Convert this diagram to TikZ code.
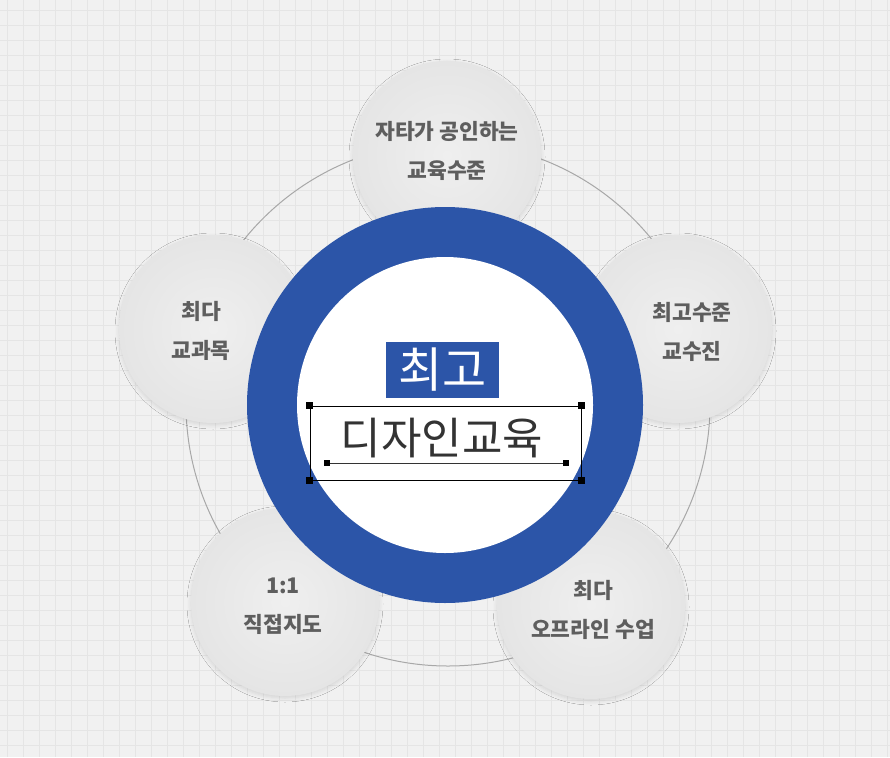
\documentclass[tikz,border=0pt]{standalone}
\usepackage{fontspec}
\setmainfont{Noto Sans CJK KR}
\usetikzlibrary{shadows.blur}
\definecolor{bgc}{HTML}{F1F1F1}
\definecolor{gridc}{HTML}{E5E5E5}
\definecolor{ringblue}{HTML}{2C55A8}
\definecolor{bubblein}{HTML}{EFEFEF}
\definecolor{bubbleout}{HTML}{E5E5E5}
\definecolor{labelgrey}{HTML}{5E5E5E}
\definecolor{maintext}{HTML}{333333}
\definecolor{orbitc}{HTML}{A8A8A8}
\tikzset{
  gridline/.style={gridc, line width=0.7pt},
  bubble/.style={circle, inner sep=0pt, minimum size=188pt, inner color=bubblein, outer color=bubbleout,
    blur shadow={shadow xshift=0pt, shadow yshift=-2pt, shadow blur radius=4pt, shadow opacity=12}},
  bubbletext/.style={align=center, text=labelgrey, font=\fontsize{21.5}{38.5}\selectfont\bfseries},
  handle/.style={fill=black, inner sep=0pt, minimum size=7pt},
}
\begin{document}
\begin{tikzpicture}[x=1pt,y=-1pt]
\useasboundingbox (0,0) rectangle (890,757);
\fill[bgc] (0,0) rectangle (890,757);
\foreach \i in {7,23,...,890} \draw[gridline] (\i,0) -- (\i,757);
\foreach \j in {10,25,...,757} \draw[gridline] (0,\j) -- (890,\j);

% orbit
\node[circle, draw=orbitc, line width=1pt, inner sep=0pt, minimum size=524pt] (orbit) at (448,404) {};

% bubbles
\node[bubble] (btop) at (447,155) {};
\node[bubble] (bleft) at (213,329) {};
\node[bubble] (bright) at (678,329) {};
\node[bubble] (bbl) at (285,602) {};
\node[bubble] (bbr) at (591,605) {};

\node[bubbletext] (ttop) at (447,151) {자타가 공인하는\\교육수준};
\node[bubbletext] (tleft) at (201,331) {최다\\교과목};
\node[bubbletext] (tright) at (692,332) {최고수준\\교수진};
\node[bubbletext] (tbl) at (283,606) {1:1\\직접지도};
\node[bubbletext] (tbr) at (593,610) {최다\\오프라인 수업};

% ring
\node[circle, fill=ringblue, inner sep=0pt, minimum size=396pt] (ring) at (445,405) {};
\node[circle, fill=white, inner sep=0pt, minimum size=296pt] (hole) at (445,405) {};

% title
\node[fill=ringblue, text=white, inner sep=0pt, minimum width=113pt, minimum height=56pt, font=\fontsize{48}{48}\selectfont] (choego) at (442.5,370) {최고};
\node[text=maintext, inner sep=0pt, font=\fontsize{44}{44}\selectfont] (main) at (442,438) {디자인교육};

% selection frame
\node[draw=black, line width=1pt, inner sep=0pt, minimum width=271pt, minimum height=74pt] (sel) at (445.5,443) {};
\node[handle] (h1) at (sel.north west) {};
\node[handle] (h2) at (sel.north east) {};
\node[handle] (h3) at (sel.south west) {};
\node[handle] (h4) at (sel.south east) {};
\node[handle, minimum size=6pt] (la) at (327,463) {};
\node[handle, minimum size=6pt] (lb) at (566,463) {};
\draw[black!80, line width=1pt] (la) -- (lb);
\end{tikzpicture}
\end{document}
